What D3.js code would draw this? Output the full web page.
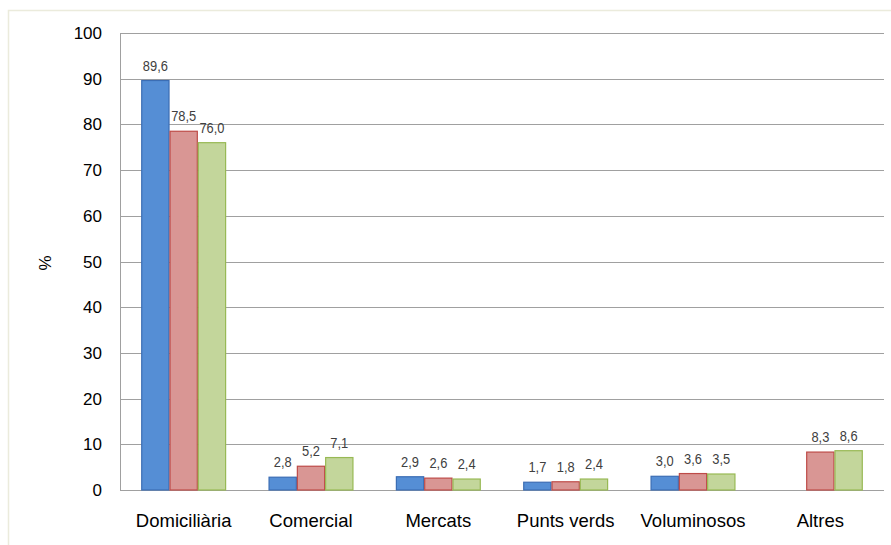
<!DOCTYPE html>
<html>
<head>
<meta charset="utf-8">
<script src="https://cdn.jsdelivr.net/npm/d3@7"></script>
<style>
  body { margin: 0; background: #fff; }
  text { font-family: "Liberation Sans", Arial, sans-serif; }
</style>
</head>
<body>
<div id="chart"></div>
<script>
// categories and series (null = no bar)
const categories = ["Domiciliària", "Comercial", "Mercats", "Punts verds", "Voluminosos", "Altres"];
const seriesNames = ["s1", "s2", "s3"];
const blueValues = [89.6, 2.8, 2.9, 1.7, 3.0, null];
const redValues = [78.5, 5.2, 2.6, 1.8, 3.6, 8.3];
const greenValues = [76.0, 7.1, 2.4, 2.4, 3.5, 8.6];
const yTicks = [0, 10, 20, 30, 40, 50, 60, 70, 80, 90, 100];

const fills = ["#558ed5", "#d99694", "#c3d69b"];
const strokes = ["#3b6db4", "#be4b48", "#98b954"];
const seriesValues = [blueValues, redValues, greenValues];

const width = 891,
  height = 545;
const plot = { left: 120, right: 884, top: 33, bottom: 490 };

const svg = d3.select("#chart").append("svg").attr("width", width).attr("height", height);

// light frame round the chart
svg.append("rect")
  .attr("x", 8.5).attr("y", 10.5)
  .attr("width", 900).attr("height", 560)
  .attr("fill", "none")
  .attr("stroke", "#ebebdc")
  .attr("stroke-width", 1.5);

const x0 = d3.scaleBand().domain(categories).range([plot.left, plot.right]).paddingInner(1 / 3).paddingOuter(1 / 6);
const x1 = d3.scaleBand().domain(seriesNames).range([0, x0.bandwidth()]);
const y = d3.scaleLinear().domain([0, 100]).range([plot.bottom, plot.top]);

// gridlines
svg.append("g")
  .selectAll("line")
  .data(yTicks)
  .join("line")
  .attr("x1", plot.left).attr("x2", plot.right)
  .attr("y1", d => Math.round(y(d)) + 0.5).attr("y2", d => Math.round(y(d)) + 0.5)
  .attr("stroke", "#a0a0a0");

// left axis line
svg.append("line")
  .attr("x1", plot.left + 0.5).attr("x2", plot.left + 0.5)
  .attr("y1", plot.top).attr("y2", plot.bottom)
  .attr("stroke", "#a0a0a0");

// tick labels
svg.append("g")
  .selectAll("text")
  .data(yTicks)
  .join("text")
  .attr("x", 102)
  .attr("y", d => y(d) + 6)
  .attr("text-anchor", "end")
  .attr("font-size", 17)
  .attr("fill", "#000")
  .text(d => d);

// y title
svg.append("text")
  .attr("transform", "translate(51,263) rotate(-90)")
  .attr("text-anchor", "middle")
  .attr("font-size", 17)
  .text("%");

// bars
const rows = [];
categories.forEach((c, i) => {
  seriesNames.forEach((s, j) => {
    const v = seriesValues[j][i];
    if (v != null) rows.push({ cat: c, s, j, v });
  });
});

svg.append("g")
  .selectAll("rect")
  .data(rows)
  .join("rect")
  .attr("x", d => x0(d.cat) + x1(d.s) + 0.5)
  .attr("y", d => y(d.v))
  .attr("width", x1.bandwidth() - 1)
  .attr("height", d => y(0) - y(d.v))
  .attr("fill", d => fills[d.j])
  .attr("stroke", d => strokes[d.j])
  .attr("stroke-width", 1.2);

// value labels (narrow, tall look of the original)
svg.append("g")
  .selectAll("text")
  .data(rows)
  .join("text")
  .attr("transform", d => `translate(${x0(d.cat) + x1(d.s) + x1.bandwidth() / 2},${y(d.v) - 10}) scale(0.86,1)`)
  .attr("text-anchor", "middle")
  .attr("font-size", 15)
  .attr("fill", "#404040")
  .text(d => d.v.toFixed(1).replace(".", ","));

// category labels
svg.append("g")
  .selectAll("text")
  .data(categories)
  .join("text")
  .attr("x", d => x0(d) + x0.bandwidth() / 2)
  .attr("y", 527)
  .attr("text-anchor", "middle")
  .attr("font-size", 18.5)
  .attr("fill", "#000")
  .text(d => d);
</script>
</body>
</html>
